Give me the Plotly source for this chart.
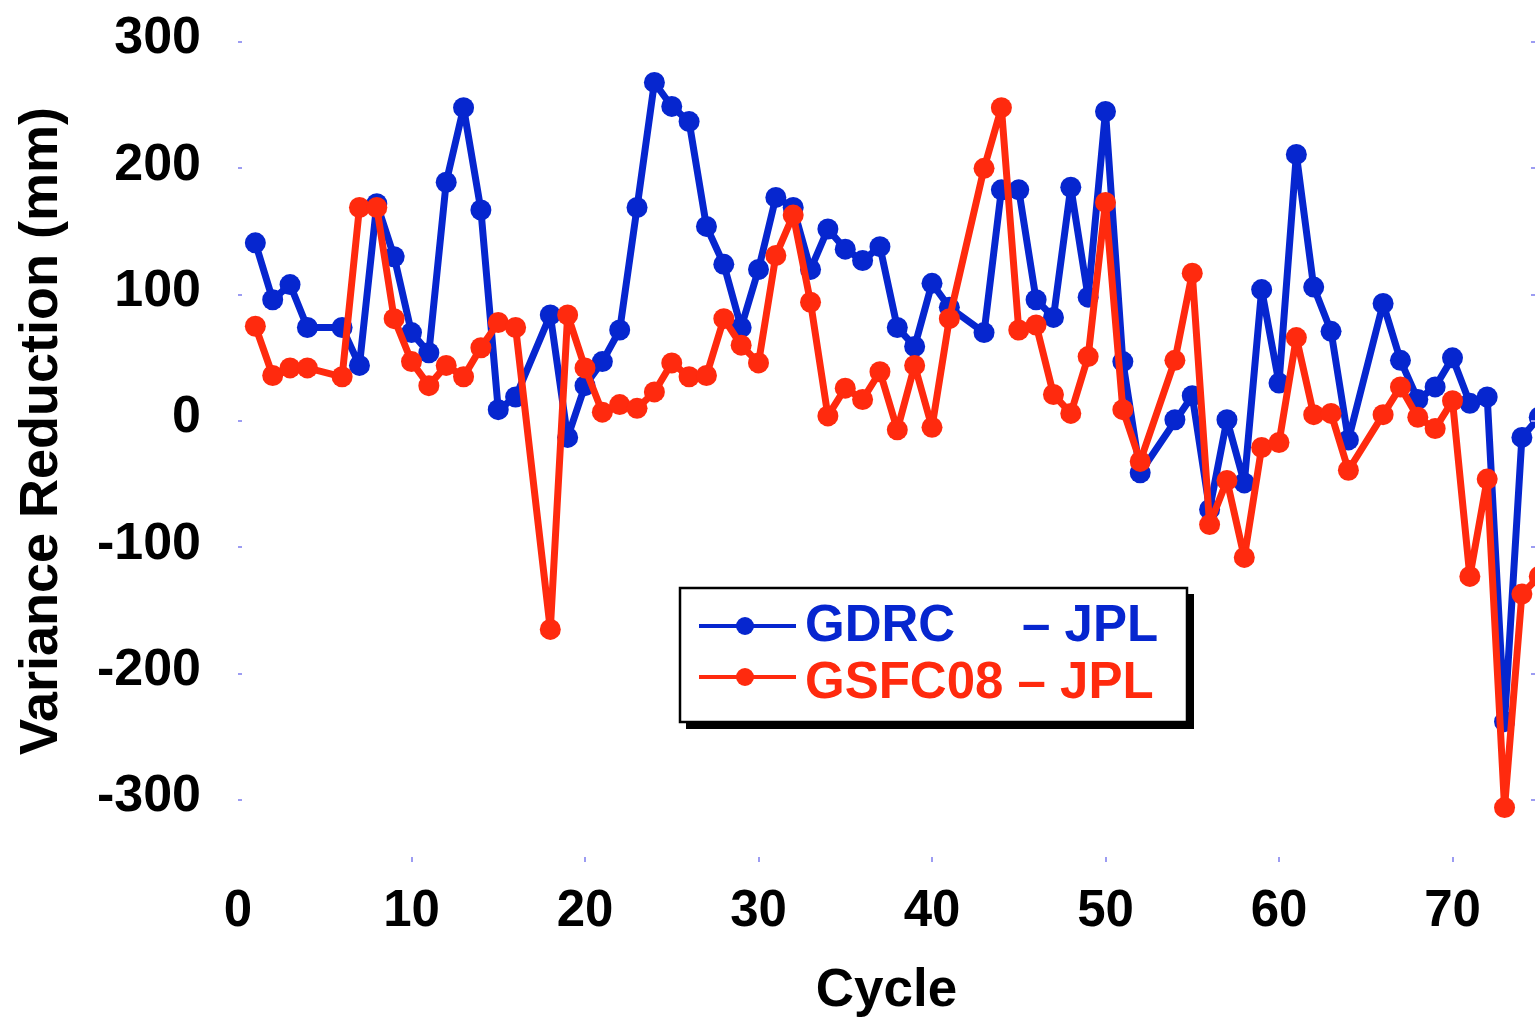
import plotly.graph_objects as go

# ---- data ----
cycles = [1, 2, 3, 4, 6, 7, 8, 9, 10, 11, 12, 13, 14, 15, 16, 18, 19, 20, 21, 22,
          23, 24, 25, 26, 27, 28, 29, 30, 31, 32, 33, 34, 35, 36, 37, 38, 39, 40, 41,
          43, 44, 45, 46, 47, 48, 49, 50, 51, 52, 54, 55, 56, 57, 58, 59, 60, 61, 62,
          63, 64, 66, 67, 68, 69, 70, 71, 72, 73, 74, 75]

gdrc_jpl = [141, 96, 108, 74, 74, 44, 172, 130, 70, 54, 189, 248, 167, 9, 19, 84, -13, 28, 47, 72,
            169, 268, 249, 237, 154, 124, 74, 120, 177, 169, 120, 152, 136, 127, 138, 74, 59, 109, 90,
            70, 183, 183, 96, 82, 185, 98, 245, 47, -41, 1, 20, -70, 1, -49, 104, 30, 211, 106,
            71, -15, 93, 48, 17, 27, 50, 14, 19, -238, -13, 3]

gsfc08_jpl = [75, 36, 42, 42, 35, 169, 169, 81, 47, 28, 44, 35, 58, 78, 74, -165, 84, 42, 7, 13,
              10, 23, 46, 35, 36, 81, 60, 46, 131, 163, 94, 4, 26, 17, 39, -7, 44, -5, 81,
              200, 248, 72, 76, 21, 6, 51, 173, 9, -32, 48, 117, -82, -47, -108, -21, -17, 66, 5,
              6, -39, 5, 27, 3, -6, 16, -123, -46, -306, -137, -123]

x_ticks = [0, 10, 20, 30, 40, 50, 60, 70]
y_ticks = [-300, -200, -100, 0, 100, 200, 300]
y_ticktext = [str(v) for v in y_ticks]

series_names = ["GDRC", "GSFC08"]
ref_name = "JPL"

BLUE = "#0626cf"
RED = "#ff2a0e"
TICKC = "#9c9cf2"
FONT = "Liberation Sans, Arial, Helvetica, sans-serif"

W, H = 1537, 1017
L, R, T, B = 238, 2, 0, 155
PW, PH = W - L - R, H - T - B


def pp(x, y):
    """pixel -> paper coordinates (for decorations only)"""
    return (x - L) / PW, (T + PH - y) / PH


fig = go.Figure()
fig.add_trace(go.Scatter(x=cycles, y=gdrc_jpl, mode="lines+markers",
                         name=f"{series_names[0]} – {ref_name}",
                         line=dict(color=BLUE, width=7),
                         marker=dict(color=BLUE, size=21), showlegend=False))
fig.add_trace(go.Scatter(x=cycles, y=gsfc08_jpl, mode="lines+markers",
                         name=f"{series_names[1]} – {ref_name}",
                         line=dict(color=RED, width=7),
                         marker=dict(color=RED, size=21), showlegend=False))

# ---- hand-drawn legend box with drop shadow ----
shapes = []
x0, y0 = pp(686, 594); x1, y1 = pp(1194, 729)
shapes.append(dict(type="rect", xref="paper", yref="paper", x0=x0, y0=y0, x1=x1, y1=y1,
                   fillcolor="black", line=dict(width=0), layer="above"))
x0, y0 = pp(680, 588); x1, y1 = pp(1187, 722)
shapes.append(dict(type="rect", xref="paper", yref="paper", x0=x0, y0=y0, x1=x1, y1=y1,
                   fillcolor="white", line=dict(color="black", width=2.5), layer="above"))
for yc, col in [(626, BLUE), (677, RED)]:
    a0, b0 = pp(699, yc); a1, b1 = pp(796, yc)
    shapes.append(dict(type="line", xref="paper", yref="paper", x0=a0, y0=b0, x1=a1, y1=b1,
                       line=dict(color=col, width=4), layer="above"))
    c0, d0 = pp(736, yc + 9); c1, d1 = pp(754, yc - 9)
    shapes.append(dict(type="circle", xref="paper", yref="paper", x0=c0, y0=d0, x1=c1, y1=d1,
                       fillcolor=col, line=dict(color=col, width=0), layer="above"))

annotations = []
legfont = dict(family=FONT, size=51, weight="bold")
ax_, ay_ = pp(803, 623)
annotations.append(dict(text=series_names[0], xref="paper", yref="paper", x=ax_, y=ay_,
                        xanchor="left", yanchor="middle", showarrow=False,
                        font=dict(**legfont, color=BLUE)))
ax_, ay_ = pp(1020, 623)
annotations.append(dict(text=f"– {ref_name}", xref="paper", yref="paper", x=ax_, y=ay_,
                        xanchor="left", yanchor="middle", showarrow=False,
                        font=dict(**legfont, color=BLUE)))
ax_, ay_ = pp(803, 680)
annotations.append(dict(text=f"{series_names[1]} – {ref_name}", xref="paper", yref="paper",
                        x=ax_, y=ay_, xanchor="left", yanchor="middle", showarrow=False,
                        font=dict(**legfont, color=RED)))

px_per_x = 17.35
px_per_y = 1.2633
y_zero_px = 421

fig.update_layout(
    width=W, height=H, autosize=False,
    margin=dict(l=L, r=R, t=T, b=B, pad=0),
    paper_bgcolor="white", plot_bgcolor="white",
    font=dict(family=FONT, color="black"),
    shapes=shapes, annotations=annotations,
    showlegend=False,
)
fig.update_xaxes(
    range=[0, PW / px_per_x], tickvals=x_ticks, showgrid=False, zeroline=False,
    showline=False, ticks="inside", ticklen=5, tickwidth=2, tickcolor=TICKC,
    tickfont=dict(family=FONT, size=51, weight="bold", color="black"),
    ticklabelstandoff=12,
    title=dict(text="Cycle", font=dict(family=FONT, size=53, weight="bold", color="black"),
               standoff=34),
)
fig.update_yaxes(
    range=[(y_zero_px - (T + PH)) / px_per_y, (y_zero_px - T) / px_per_y],
    tickvals=y_ticks, ticktext=y_ticktext, showgrid=False, zeroline=False, showline=False,
    ticks="inside", ticklen=4, tickwidth=2, tickcolor=TICKC, mirror="ticks",
    tickfont=dict(family=FONT, size=52, weight="bold", color="black"),
    ticklabelstandoff=36, ticklabelshift=-7,
    title=dict(text="Variance Reduction (mm)",
               font=dict(family=FONT, size=54, weight="bold", color="black"), standoff=22),
)

fig.write_html("out.html", config={"displayModeBar": False},
               post_script="document.body.style.margin='0px';")
